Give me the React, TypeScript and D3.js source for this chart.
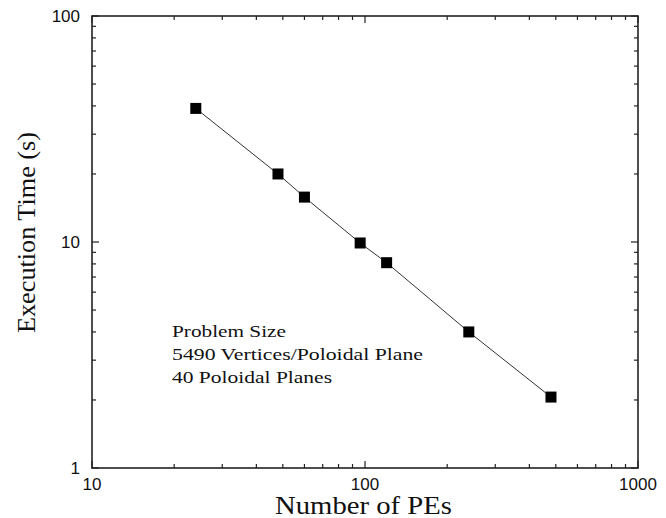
import React from "react";
import * as d3 from "d3";

// Number of PEs vs execution time (s)
const pes = [24, 48, 60, 96, 120, 240, 480];
const times = [39, 20, 15.8, 9.9, 8.1, 4.0, 2.06];

const xTickLabels = [10, 100, 1000];
const yTickLabels = [1, 10, 100];
const noteLines = [
  "Problem Size",
  "5490 Vertices/Poloidal Plane",
  "40 Poloidal Planes",
];
const noteWidths = [114, 251, 160];

const W = 666;
const H = 518;
const left = 92;
const right = 638;
const top = 16;
const bottom = 468;

const App = () => {
  const x = d3.scaleLog().domain([10, 1000]).range([left, right]);
  const y = d3.scaleLog().domain([1, 100]).range([bottom, top]);

  const minorX = x.ticks().filter((t) => !xTickLabels.includes(t));
  const minorY = y.ticks().filter((t) => !yTickLabels.includes(t));

  const line = d3
    .line<number>()
    .x((d, i) => x(pes[i]))
    .y((d) => y(d));

  const sans = "'Liberation Sans', Arial, sans-serif";
  const serif = "'Liberation Serif', 'Times New Roman', serif";
  const axisColor = "#222";
  const major = 7;
  const minor = 4;
  const sz = 11;

  return (
    <svg
      width={W}
      height={H}
      style={{ position: "absolute", left: 0, top: 0, background: "#fff" }}
    >
      <rect x={0} y={0} width={W} height={H} fill="#fff" />

      {/* ticks, drawn inward on all four sides */}
      <g stroke={axisColor} strokeWidth={1.2}>
        {xTickLabels.map((t) => (
          <g key={"xM" + t}>
            <line x1={x(t)} x2={x(t)} y1={bottom} y2={bottom - major} />
            <line x1={x(t)} x2={x(t)} y1={top} y2={top + major} />
          </g>
        ))}
        {minorX.map((t) => (
          <g key={"xm" + t}>
            <line x1={x(t)} x2={x(t)} y1={bottom} y2={bottom - minor} />
            <line x1={x(t)} x2={x(t)} y1={top} y2={top + minor} />
          </g>
        ))}
        {yTickLabels.map((t) => (
          <g key={"yM" + t}>
            <line x1={left} x2={left + major} y1={y(t)} y2={y(t)} />
            <line x1={right} x2={right - major} y1={y(t)} y2={y(t)} />
          </g>
        ))}
        {minorY.map((t) => (
          <g key={"ym" + t}>
            <line x1={left} x2={left + minor} y1={y(t)} y2={y(t)} />
            <line x1={right} x2={right - minor} y1={y(t)} y2={y(t)} />
          </g>
        ))}
      </g>

      <rect
        x={left}
        y={top}
        width={right - left}
        height={bottom - top}
        fill="none"
        stroke={axisColor}
        strokeWidth={1.6}
      />

      {/* tick labels */}
      <g fontFamily={sans} fontSize={17} fill="#111">
        {xTickLabels.map((t) => (
          <text key={"xl" + t} x={x(t)} y={490} textAnchor="middle">
            {t}
          </text>
        ))}
        {yTickLabels.map((t) => (
          <text
            key={"yl" + t}
            x={80}
            y={y(t)}
            textAnchor="end"
            dominantBaseline="central"
          >
            {t}
          </text>
        ))}
      </g>

      {/* axis titles */}
      <text
        x={363.5}
        y={514}
        textAnchor="middle"
        fontFamily={serif}
        fontSize={26}
        textLength={177}
        lengthAdjust="spacingAndGlyphs"
        fill="#111"
      >
        Number of PEs
      </text>
      <text
        transform={`translate(35, 232.5) rotate(-90)`}
        textAnchor="middle"
        fontFamily={serif}
        fontSize={26}
        textLength={201}
        lengthAdjust="spacingAndGlyphs"
        fill="#111"
      >
        Execution Time (s)
      </text>

      {/* data */}
      <path d={line(times) || ""} fill="none" stroke="#333" strokeWidth={1} />
      {times.map((v, i) => (
        <rect
          key={"p" + i}
          x={x(pes[i]) - sz / 2}
          y={y(v) - sz / 2}
          width={sz}
          height={sz}
          fill="#000"
        />
      ))}

      {/* annotation */}
      <g fontFamily={serif} fontSize={17} fill="#111">
        {noteLines.map((s, i) => (
          <text
            key={"n" + i}
            x={172}
            y={337 + i * 23}
            textLength={noteWidths[i]}
            lengthAdjust="spacingAndGlyphs"
          >
            {s}
          </text>
        ))}
      </g>
    </svg>
  );
};

export default App;
